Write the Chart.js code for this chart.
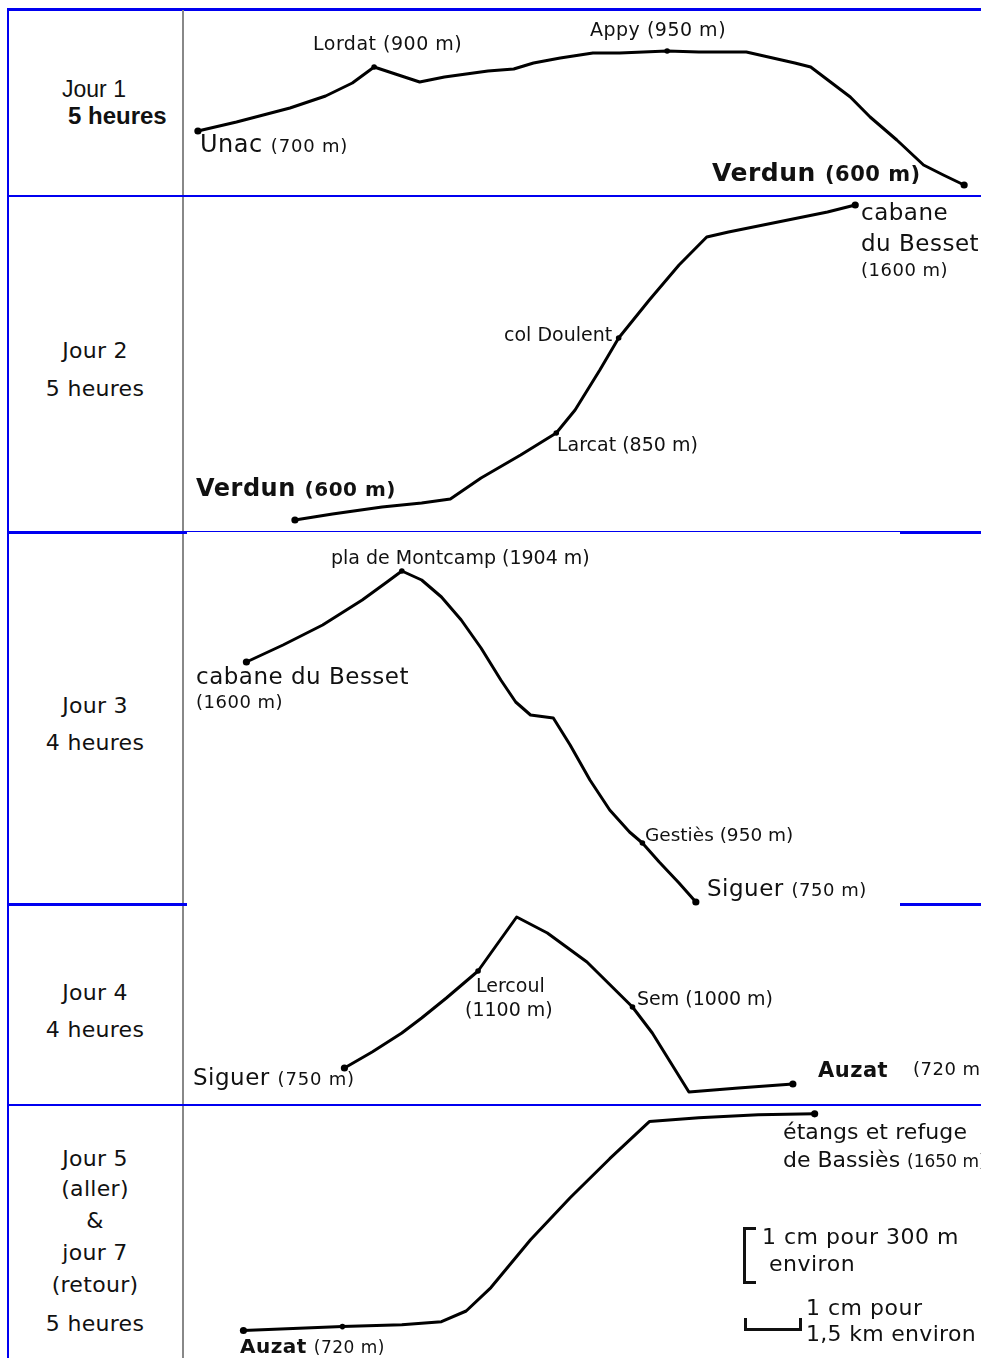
<!DOCTYPE html>
<html>
<head>
<meta charset="utf-8">
<script src="https://cdn.jsdelivr.net/npm/chart.js@4"></script>
<style>
  html, body { margin: 0; padding: 0; background: #fff; }
  body { width: 981px; height: 1358px; overflow: hidden; position: relative; font-family: "DejaVu Sans", sans-serif; color: #111; }
  .ln { position: absolute; background: #0000f0; }
  .gr { position: absolute; background: #888; }
  .cv { position: absolute; left: 185px; }
  .lb { position: absolute; white-space: nowrap; transform: translateY(-50%); }
  .ws { letter-spacing: 0.5px; }
  .lc { position: absolute; left: 95px; white-space: nowrap; transform: translate(-50%, -50%); font-size: 22px; letter-spacing: 0.3px; }
  .b { font-weight: bold; }
  .ar { font-family: "Liberation Sans", Arial, sans-serif; }
  .br { position: absolute; background: #111; }
</style>
</head>
<body>

<!-- table lines -->
<div class="ln" style="left:7px;top:8px;width:974px;height:3px"></div>
<div class="ln" style="left:7px;top:8px;width:2px;height:1350px"></div>
<div class="gr" style="left:182px;top:10px;width:2px;height:1348px"></div>
<div class="ln" style="left:7px;top:195px;width:974px;height:2px"></div>
<div class="ln" style="left:7px;top:531px;width:180px;height:3px"></div>
<div class="ln" style="left:184px;top:531px;width:716px;height:1px"></div>
<div class="ln" style="left:900px;top:531px;width:81px;height:3px"></div>
<div class="ln" style="left:7px;top:903px;width:180px;height:3px"></div>
<div class="ln" style="left:900px;top:903px;width:81px;height:3px"></div>
<div class="ln" style="left:7px;top:1104px;width:974px;height:2px"></div>

<!-- profile charts -->
<canvas id="c1" class="cv" width="796" height="197" style="top:4px"></canvas>
<canvas id="c2" class="cv" width="796" height="346" style="top:191px"></canvas>
<canvas id="c3" class="cv" width="796" height="383" style="top:527px"></canvas>
<canvas id="c4" class="cv" width="796" height="210" style="top:900px"></canvas>
<canvas id="c5" class="cv" width="796" height="258" style="top:1100px"></canvas>

<!-- left column -->
<div class="lb ar" style="left:62px;top:89px;font-size:23px">Jour 1</div>
<div class="lb ar b" style="left:68px;top:116px;font-size:24px">5 heures</div>

<div class="lc" style="top:350px">Jour 2</div>
<div class="lc" style="top:388px">5 heures</div>

<div class="lc" style="top:705px">Jour 3</div>
<div class="lc" style="top:742px">4 heures</div>

<div class="lc" style="top:992px">Jour 4</div>
<div class="lc" style="top:1029px">4 heures</div>

<div class="lc" style="top:1158px">Jour 5</div>
<div class="lc" style="top:1188px">(aller)</div>
<div class="lc" style="top:1220px">&amp;</div>
<div class="lc" style="top:1252px">jour 7</div>
<div class="lc" style="top:1284px">(retour)</div>
<div class="lc" style="top:1323px">5 heures</div>

<!-- day 1 labels -->
<div class="lb ws" style="left:313px;top:43px;font-size:19px">Lordat (900 m)</div>
<div class="lb ws" style="left:590px;top:29px;font-size:19px">Appy (950 m)</div>
<div class="lb ws" style="left:200px;top:144px;font-size:24px">Unac <span style="font-size:18px;letter-spacing:0.8px">(700 m)</span></div>
<div class="lb ws b" style="left:712px;top:172px;font-size:25px">Verdun <span style="font-size:21px">(600 m)</span></div>

<!-- day 2 labels -->
<div class="lb ws" style="left:861px;top:212px;font-size:23px">cabane</div>
<div class="lb ws" style="left:861px;top:243px;font-size:23px">du Besset</div>
<div class="lb ws" style="left:861px;top:269px;font-size:18px">(1600 m)</div>
<div class="lb" style="left:504px;top:334px;font-size:19px">col Doulent</div>
<div class="lb" style="left:557px;top:444px;font-size:19px">Larcat (850 m)</div>
<div class="lb ws b" style="left:196px;top:488px;font-size:24px">Verdun <span style="font-size:20px">(600 m)</span></div>

<!-- day 3 labels -->
<div class="lb" style="left:331px;top:557px;font-size:19px">pla de Montcamp (1904 m)</div>
<div class="lb ws" style="left:196px;top:676px;font-size:23px">cabane du Besset</div>
<div class="lb ws" style="left:196px;top:701px;font-size:18px">(1600 m)</div>
<div class="lb" style="left:645px;top:834px;font-size:18.5px">Gestiès (950 m)</div>
<div class="lb ws" style="left:707px;top:888px;font-size:23px">Siguer <span style="font-size:18px">(750 m)</span></div>

<!-- day 4 labels -->
<div class="lb" style="left:476px;top:985px;font-size:19px">Lercoul</div>
<div class="lb" style="left:465px;top:1009px;font-size:19px">(1100 m)</div>
<div class="lb" style="left:637px;top:998px;font-size:19px">Sem (1000 m)</div>
<div class="lb ws" style="left:193px;top:1077px;font-size:23px">Siguer <span style="font-size:18px;letter-spacing:0.8px">(750 m)</span></div>
<div class="lb ws b" style="left:818px;top:1070px;font-size:21px">Auzat</div>
<div class="lb ws" style="left:913px;top:1068px;font-size:18px">(720 m)</div>

<!-- day 5 labels -->
<div class="lb" style="left:783px;top:1131px;font-size:22px;letter-spacing:0.1px">étangs et refuge</div>
<div class="lb" style="left:783px;top:1159px;font-size:22px">de Bassiès <span style="font-size:17px">(1650 m)</span></div>
<div class="lb ws" style="left:240px;top:1346px;font-size:20px"><span class="b">Auzat</span> <span style="font-size:17px">(720 m)</span></div>

<!-- scale legend -->
<div class="br" style="left:743px;top:1227px;width:3px;height:57px"></div>
<div class="br" style="left:743px;top:1227px;width:13px;height:3px"></div>
<div class="br" style="left:743px;top:1281px;width:13px;height:3px"></div>
<div class="lb ws" style="left:762px;top:1236px;font-size:22px">1 cm pour 300 m</div>
<div class="lb ws" style="left:769px;top:1263px;font-size:22px">environ</div>
<div class="br" style="left:744px;top:1318px;width:3px;height:13px"></div>
<div class="br" style="left:744px;top:1328px;width:58px;height:3px"></div>
<div class="br" style="left:799px;top:1318px;width:3px;height:13px"></div>
<div class="lb ws" style="left:806px;top:1307px;font-size:22px">1 cm pour</div>
<div class="lb" style="left:806px;top:1333px;font-size:22px;letter-spacing:0.3px">1,5 km environ</div>

<script>
// distance along the walk (km) and profile height (m)
const day1Km = [0.18, 0.96, 2.04, 2.76, 3.30, 3.74, 4.66, 5.16, 6.04, 6.56, 6.96, 7.50, 8.16, 8.70, 9.66, 10.30, 11.26, 12.24, 12.56, 13.36, 13.76, 14.30, 14.84, 15.24, 15.66];
const day1Alt = [870, 915, 985, 1045, 1110, 1190, 1115, 1140, 1170, 1180, 1210, 1235, 1260, 1260, 1270, 1265, 1265, 1210, 1190, 1040, 940, 825, 700, 650, 600];
const day1Stops = [0, 5, 14, 24];

const day2Km = [2.14, 2.90, 3.90, 4.70, 5.28, 5.90, 6.70, 7.42, 7.80, 8.30, 8.68, 9.30, 9.90, 10.46, 10.90, 11.90, 12.90, 13.46];
const day2Alt = [600, 630, 665, 685, 705, 810, 925, 1035, 1150, 1350, 1510, 1700, 1875, 2015, 2040, 2090, 2140, 2175];
const day2Stops = [0, 7, 10, 17];

const day3Km = [1.16, 1.90, 2.70, 3.50, 4.00, 4.30, 4.70, 5.10, 5.50, 5.90, 6.30, 6.60, 6.90, 7.36, 7.70, 8.10, 8.50, 8.90, 9.16, 9.50, 9.90, 10.24];
const day3Alt = [1950, 2035, 2135, 2260, 2350, 2405, 2360, 2275, 2160, 2020, 1860, 1750, 1685, 1670, 1535, 1360, 1210, 1100, 1045, 950, 845, 750];
const day3Stops = [0, 5, 18, 21];

const day4Km = [3.14, 3.70, 4.30, 4.70, 5.20, 5.84, 6.20, 6.62, 7.24, 8.04, 8.96, 9.36, 10.10, 11.10, 12.20];
const day4Alt = [800, 880, 975, 1050, 1150, 1285, 1410, 1555, 1475, 1330, 1105, 975, 680, 700, 720];
const day4Stops = [0, 5, 10, 14];

const day5Km = [1.10, 2.10, 3.10, 4.30, 5.10, 5.60, 6.10, 6.90, 7.70, 8.50, 9.30, 10.30, 11.50, 12.64];
const day5Alt = [720, 730, 740, 750, 765, 820, 940, 1185, 1400, 1600, 1790, 1810, 1825, 1830];
const day5Stops = [0, 2, 13];

// visible window of each row: [min m, max m]
const rowRange = [[550, 1475], [545, 2215], [740, 2595], [620, 1610], [610, 1870]];
const KM_MAX = 15.92;

function profile(id, km, alt, stops, range) {
  const last = km.length - 1;
  new Chart(document.getElementById(id), {
    type: 'line',
    data: {
      datasets: [{
        data: km.map((x, i) => ({ x: x, y: alt[i] })),
        borderColor: '#000',
        borderWidth: 3,
        borderJoinStyle: 'round',
        borderCapStyle: 'round',
        tension: 0,
        clip: false,
        pointRadius: km.map((_, i) => stops.includes(i) ? (i === 0 || i === last ? 3.6 : 2.8) : 0),
        pointBackgroundColor: '#000',
        pointBorderWidth: 0
      }]
    },
    options: {
      responsive: false,
      animation: false,
      events: [],
      layout: { padding: { top: 6, bottom: 6, left: 0, right: 0 } },
      plugins: { legend: { display: false }, tooltip: { enabled: false } },
      scales: {
        x: { type: 'linear', display: false, min: 0, max: KM_MAX },
        y: { type: 'linear', display: false, min: range[0], max: range[1] }
      }
    }
  });
}

profile('c1', day1Km, day1Alt, day1Stops, rowRange[0]);
profile('c2', day2Km, day2Alt, day2Stops, rowRange[1]);
profile('c3', day3Km, day3Alt, day3Stops, rowRange[2]);
profile('c4', day4Km, day4Alt, day4Stops, rowRange[3]);
profile('c5', day5Km, day5Alt, day5Stops, rowRange[4]);
</script>
</body>
</html>
